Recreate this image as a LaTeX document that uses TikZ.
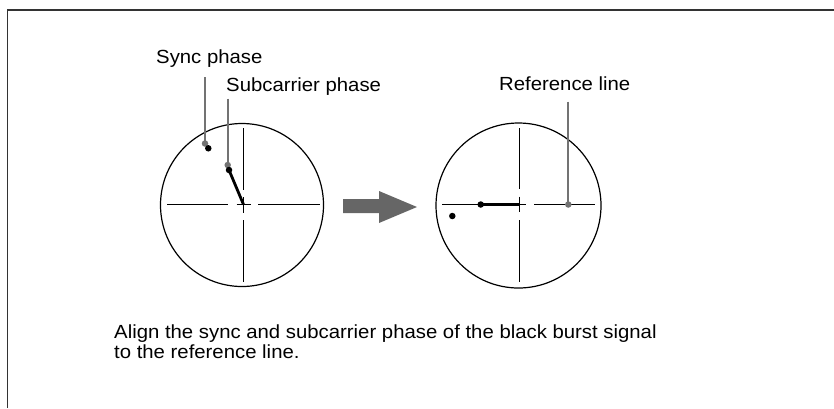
\documentclass[tikz,border=0pt]{standalone}
\usepackage{fontspec}
\newfontfamily\labfont[FakeStretch=1.07]{Liberation Sans}
\begin{document}
\begin{tikzpicture}[x=1pt,y=-1pt,
  lab/.style={inner sep=0pt,anchor=base west,font=\labfont\fontsize{19}{20}\selectfont},
  scope/.style={draw=black,line width=1.2pt},
  hair/.style={draw=black,line width=1pt},
  burst/.style={draw=black,line width=2.8pt},
  leader/.style={draw=gray!90!black,line width=2pt},
  bdot/.style={circle,fill=black,inner sep=0pt,minimum size=6.5pt},
  gdot/.style={circle,fill=gray!90!black,inner sep=0pt,minimum size=6.5pt}]
\useasboundingbox (0,0) rectangle (834,408);
% frame
\draw[black!80,line width=1.4pt] (7.3,408) -- (7.3,10) -- (834,10);

% ---------- left vectorscope ----------
\draw[scope] (242,205) circle[radius=81.5];
\coordinate (lc) at (243.5,204.5);
\draw[hair] (167,204.5) -- (228,204.5) (236.5,204.5) -- (251,204.5) (258,204.5) -- (320,204.5);
\draw[hair] (243.5,128) -- (243.5,190) (243.5,197) -- (243.5,213) (243.5,220) -- (243.5,282);
% leaders
\node[lab] (sync) at (156,63) {Sync phase};
\node[lab] (sub) at (226,91.5) {Subcarrier phase};
\coordinate (synctop) at (205,77);
\node[gdot] (syncg) at (205,143.5) {};
\draw[leader] (synctop) -- (syncg.center);
\node[bdot] (syncb) at (208.3,148.3) {};
\coordinate (subtop) at (227.7,98.5);
\node[gdot] (subg) at (227.7,165) {};
\draw[leader] (subtop) -- (subg.center);
\node[bdot] (subb) at (229,170) {};
\draw[burst] (subb.center) -- (lc);

% ---------- arrow ----------
\fill[black!60] (343,199) -- (379,199) -- (379,191) -- (417,207) -- (379,223) -- (379,213) -- (343,213) -- cycle;

% ---------- right vectorscope ----------
\draw[scope] (518.5,205.5) circle[radius=82.5];
\coordinate (rc) at (519,204.5);
\draw[hair] (442,204.5) -- (505,204.5) (512,204.5) -- (526,204.5) (534,204.5) -- (595,204.5);
\draw[hair] (519,128) -- (519,189) (519,196.7) -- (519,211.7) (519,220) -- (519,282);
\node[bdot] (rsub) at (480.7,204.5) {};
\draw[burst] (rsub.center) -- (rc);
\node[bdot] (rsync) at (452.3,216) {};
\node[lab] (ref) at (499,90.7) {Reference line};
\coordinate (reftop) at (568.3,101.7);
\node[gdot] (refg) at (568.3,204.5) {};
\draw[leader] (reftop) -- (refg.center);

% ---------- caption ----------
\node[lab,align=left,anchor=north west,text depth=0pt] (cap) at (114,325) {Align the sync and subcarrier phase of the black burst signal\\to the reference line.};
\end{tikzpicture}
\end{document}
